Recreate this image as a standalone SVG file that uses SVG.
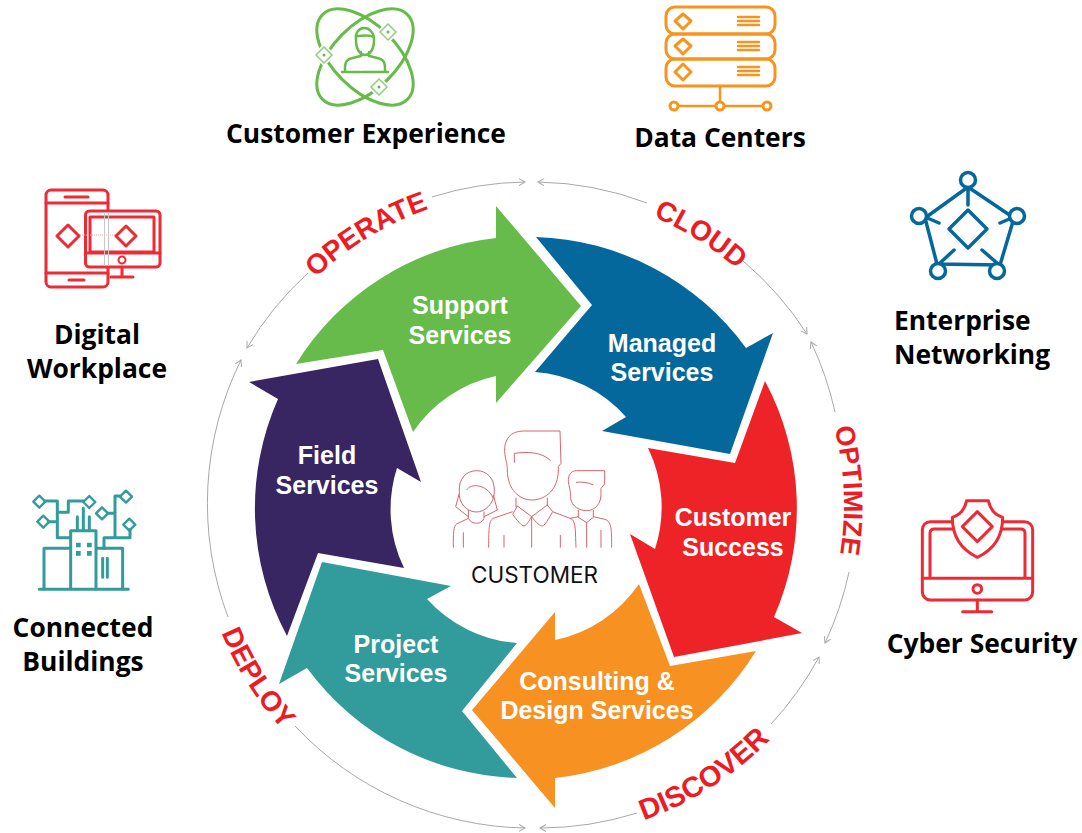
<svg xmlns="http://www.w3.org/2000/svg" width="1082" height="833" viewBox="0 0 1082 833">
<style>
.ring{fill:none;stroke:#a8a8a8;stroke-width:1;marker-end:url(#open)}
.wl{font:bold 25px "Liberation Sans",Arial,sans-serif;fill:#fff;text-anchor:middle}
.lb{font:700 26.4px "Open Sans",sans-serif;fill:#000;text-anchor:middle}
.ph{font:bold 28px "Liberation Sans",Arial,sans-serif;fill:#ed1c24}
.ic{fill:none;stroke-linejoin:round;stroke-linecap:round}
.cu{fill:none;stroke:#d9626a}
</style>
<defs>
<marker id="open" markerWidth="10" markerHeight="10" refX="7" refY="4" orient="auto" markerUnits="userSpaceOnUse"><path d="M1,0.5L7,4L1,7.5" fill="none" stroke="#a8a8a8" stroke-width="1"/></marker>
<path id="cw" d="M218,505A313,313 0 1 1 844,505A313,313 0 1 1 218,505"/>
<path id="ccw" d="M196,505A335,335 0 1 0 866,505A335,335 0 1 0 196,505"/>
</defs>
<g id="connectors">
<path class="ring" d="M432,197A323,323 0 0 1 525,182"/>
<path class="ring" d="M647,203A323,323 0 0 0 538,182"/>
<path class="ring" d="M743,261A323,323 0 0 1 807,334"/>
<path class="ring" d="M835,412A323,323 0 0 0 811,342"/>
<path class="ring" d="M849,572A323,323 0 0 1 825,643"/>
<path class="ring" d="M771,724A323,323 0 0 0 819,657"/>
<path class="ring" d="M637,813A323,323 0 0 1 540,828"/>
<path class="ring" d="M295,726A323,323 0 0 0 525,828"/>
<path class="ring" d="M228,617A323,323 0 0 1 241,360"/>
<path class="ring" d="M308,273A323,323 0 0 0 247,348"/>
</g>
<g id="ring-labels">
<text class="ph"><textPath href="#cw" startOffset="254">OPERATE</textPath></text>
<text class="ph"><textPath href="#cw" startOffset="617">CLOUD</textPath></text>
<text class="ph" style="font-size:27px"><textPath href="#cw" startOffset="905">OPTIMIZE</textPath></text>
<text class="ph" style="font-size:29px"><textPath href="#ccw" startOffset="641">DISCOVER</textPath></text>
<text class="ph"><textPath href="#ccw" startOffset="131">DEPLOY</textPath></text>
</g>
<g id="support-services"><path fill="#66bb4a" d="M296,364A270,270 0 0 1 496,238L496,206L581,306L496,403L496,376A134,134 0 0 0 413,432L383,350Z"/><text class="wl" x="460" y="314">Support</text><text class="wl" x="460" y="344">Services</text></g>
<g id="managed-services"><path fill="#05689c" d="M536,237A270,270 0 0 1 746,348L773,333L730,454L602,431L626,417A135,135 0 0 0 535,372L592,305Z"/><text class="wl" x="662" y="352">Managed</text><text class="wl" x="662" y="381">Services</text></g>
<g id="customer-success"><path fill="#ee2328" d="M765,381A270,270 0 0 1 774,617L802,633L674,657L630,534L655,549A135,135 0 0 0 648,448L735,463Z"/><text class="wl" x="733" y="526">Customer</text><text class="wl" x="733" y="556">Success</text></g>
<g id="consulting-design"><path fill="#f79122" d="M756,651A270,270 0 0 1 555,778L555,808L472,710L555,612L555,640A135,135 0 0 0 639,584L670,666Z"/><text class="wl" x="597" y="690">Consulting &amp;</text><text class="wl" x="597" y="719">Design Services</text></g>
<g id="project-services"><path fill="#329b9c" d="M517,778A270,270 0 0 1 307,668L279,684L322,562L451,586L427,599A135,135 0 0 0 517,643L462,711Z"/><text class="wl" x="396" y="653">Project</text><text class="wl" x="396" y="682">Services</text></g>
<g id="field-services"><path fill="#372661" d="M378,359L249,382L278,399A270,270 0 0 0 287,636L318,553L404,568A135,135 0 0 1 397,468L421,482Z"/><text class="wl" x="327" y="464">Field</text><text class="wl" x="327" y="494">Services</text></g>
<g id="customer" transform="translate(430,420) scale(.3333)">
<g class="cu" stroke-width="3">
<path d="M390,33L280,33C240,33 222,60 224,95C226,120 232,130 232,150C232,210 270,240 305,240C350,240 385,205 385,150L385,140L393,130Z"/>
<path d="M253,128L253,100C290,95 335,95 362,122"/>
<path d="M258,233L258,262M352,233L352,258M262,258L305,290L352,255M262,258L248,283C260,300 275,318 282,318C290,318 305,290 305,290C320,310 330,318 338,318C345,318 368,275 368,275L352,255"/>
<path d="M248,275L190,295C178,300 176,320 176,383M368,275L425,297C438,305 436,340 438,383M305,290L305,383M222,345L222,383M391,345L391,383"/>
<path d="M88,215C85,175 110,152 140,152C170,152 195,175 193,215C193,250 165,276 140,276C110,276 85,250 88,215Z"/>
<path d="M88,220L77,260L115,290M190,225L202,270L162,290M110,210C120,190 170,190 190,235M115,270L115,295C125,315 155,315 162,295L162,275M115,295L80,312C70,318 70,340 70,383M100,337L100,383"/>
<path d="M524,152L440,152C420,152 414,170 415,185C420,210 422,220 422,235C425,260 450,272 470,272C495,272 513,250 513,225L513,205L524,192Z"/>
<path d="M438,187C455,185 475,187 490,195M445,270L445,292L470,308L490,292L490,270M445,290L420,295M490,290L525,298C545,305 545,330 545,383M470,308L470,383M513,330L513,383"/>
</g>
</g>
<text id="customer-label" x="534.500" y="583" font-family="Inter,sans-serif" font-size="22.500" text-anchor="middle" fill="#111">CUSTOMER</text>
<g id="customer-experience">
<g class="ic" stroke="#66bb4a" stroke-width="3">
<ellipse cx="365" cy="57" rx="60" ry="32" transform="rotate(45 365 57)"/>
<ellipse cx="365" cy="57" rx="60" ry="32" transform="rotate(-45 365 57)"/>
<path d="M356,40C354,24 374,24 374,40C374,60 356,60 356,40ZM356,36C362,36 368,34 374,37M361,52L361,56C350,59 345,58 345,68L345,72M369,52L369,56C380,59 385,58 385,68L385,72M342,72L360,72M362,72L388,72" stroke-width="2.500"/>
</g>
<g fill="#fff" stroke="#fff" stroke-width="5"><path d="M388,24L396,32L388,40L380,32Z"/><path d="M324,47L332,55L324,63L316,55Z"/><path d="M379,79L387,87L379,95L371,87Z"/></g>
<g fill="#fff" stroke="#8fce7a" stroke-width="1.500"><path d="M388,24L396,32L388,40L380,32Z"/><path d="M324,47L332,55L324,63L316,55Z"/><path d="M379,79L387,87L379,95L371,87Z"/></g>
<g fill="#66bb4a"><circle cx="388" cy="32" r="1.500"/><circle cx="324" cy="55" r="1.500"/><circle cx="379" cy="87" r="1.500"/></g>
<text class="lb" x="366" y="143">Customer Experience</text>
</g>
<g id="data-centers">
<g class="ic" stroke="#f7941d" stroke-width="3">
<rect x="666" y="7" width="109" height="27" rx="9"/><rect x="666" y="34" width="109" height="25" rx="9"/><rect x="666" y="59" width="109" height="27" rx="9"/>
<path d="M683,14L691,21L683,29L675,21ZM683,39L691,46L683,54L675,46ZM683,64L691,72L683,80L675,72Z"/>
<path d="M738,17H759M738,21H759M738,25H759M738,42H759M738,46H759M738,50H759M738,67H759M738,71H759M738,75H759M720,86V106M674,106H767" stroke-width="2.500"/>
<circle cx="674" cy="106" r="4" fill="#fff"/><circle cx="720" cy="106" r="4" fill="#fff"/><circle cx="767" cy="106" r="4" fill="#fff"/>
</g>
<text class="lb" x="720" y="147">Data Centers</text>
</g>
<g id="enterprise-networking">
<g class="ic" stroke="#05689c" stroke-width="3.500">
<path d="M968,187L925,218L937,264L1000,265L1014,218ZM968,187V205M925,217L939,223M1014,217L1000,223M939,264L954,250M997,263L982,250"/>
<path d="M968,210L987,229L968,248L949,229Z"/>
<circle cx="968" cy="180" r="7.500" fill="#fff"/><circle cx="919" cy="216" r="7.500" fill="#fff"/><circle cx="1017" cy="216" r="7.500" fill="#fff"/><circle cx="938" cy="271" r="7.500" fill="#fff"/><circle cx="997" cy="271" r="7.500" fill="#fff"/>
</g>
<text class="lb" style="text-anchor:start" x="894" y="330">Enterprise</text>
<text class="lb" style="text-anchor:start" x="894" y="364">Networking</text>
</g>
<g id="digital-workplace">
<g class="ic" stroke="#ee2b34" stroke-width="3">
<rect x="46" y="190" width="62" height="97" rx="5"/>
<path d="M46,203H108M46,273H108M65,197H88M69,280H84M68,225L79,236L68,247L57,236Z"/>
<rect x="85.500" y="211" width="74.500" height="56" rx="4" fill="#fff"/>
<rect x="90" y="217" width="64" height="35"/>
<path d="M126,226L136,236L126,246L116,236ZM85.500,253H160M122,267V277M111,277H133"/>
<circle cx="122" cy="260" r="3.500" stroke-width="2"/>
</g>
<path d="M80,235H115" stroke="#f2a0a5" stroke-width="1" stroke-dasharray="1 1"/>
<path d="M104.500,212V266M108.500,212V266" stroke="#c8c8c8" stroke-width="1"/>
<text class="lb" x="97" y="344">Digital</text>
<text class="lb" x="97" y="378">Workplace</text>
</g>
<g id="connected-buildings">
<g transform="translate(0,470) scale(.3333)" class="ic" stroke="#329b9c" stroke-width="9">
<path d="M118,358H385M132,358V235H212M212,358V182H288V358M288,235H368V358M308,265V322M322,265V322M232,140V182M250,115V182M268,140V182"/>
<path d="M135,93H172V203H212M145,155H172M172,127H205V93H250M312,235V203H390V178M345,203V78H360M345,130H322"/>
<path d="M118,77L136,95L118,113L100,95ZM130,137L148,155L130,173L112,155ZM268,78L286,96L268,114L250,96ZM306,112L324,130L306,148L288,130ZM378,62L396,80L378,98L360,80ZM388,146L406,164L388,182L370,164Z" stroke-width="7"/>
<path d="M235,225h.1M268,225h.1M235,250h.1M268,250h.1" stroke-width="14" stroke-linecap="square"/>
</g>
<text class="lb" x="83" y="637">Connected</text>
<text class="lb" x="83" y="671">Buildings</text>
</g>
<g id="cyber-security">
<g transform="translate(900,480) scale(.3333)" class="ic" stroke="#ee2b34" stroke-width="9">
<rect x="67" y="125" width="331" height="235" rx="24"/>
<path d="M90,295V160Q90,147 103,147H362Q375,147 375,160V295M67,295H398M232,360V395M188,395H275"/>
<circle cx="232" cy="327" r="13"/>
<path d="M200,62H265C270,85 285,105 308,112C308,170 280,210 232,232C185,210 157,170 157,112C180,105 195,85 200,62Z" fill="#fff"/>
<path d="M232,95L277,140L232,185L187,140Z"/>
</g>
<text class="lb" x="982" y="653">Cyber Security</text>
</g>
</svg>
